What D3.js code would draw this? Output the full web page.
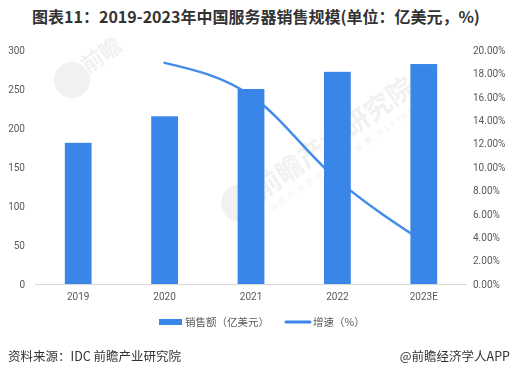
<!DOCTYPE html>
<html>
<head>
<meta charset="utf-8">
<script src="https://cdn.jsdelivr.net/npm/d3@7"></script>
<style>
  body { margin: 0; background: #fff; }
  svg { display: block; font-family: "Microsoft YaHei", "Noto Sans CJK SC", sans-serif; }
</style>
</head>
<body>
<div id="chart"></div>
<script>
// data
const years = ["2019", "2020", "2021", "2022", "2023E"];
const sales = [181, 215, 250, 272, 282];           // 亿美元
const growthYears = ["2020", "2021", "2022", "2023E"];
const growth = [18.9, 16.1, 8.9, 3.6];              // %
const leftTicks = [0, 50, 100, 150, 200, 250, 300];
const rightTicks = [0, 2, 4, 6, 8, 10, 12, 14, 16, 18, 20];

const width = 511, height = 377;
const plotLeft = 35, plotRight = 467, plotTop = 50, plotBottom = 284;
const blue = "#3a86e8";

const svg = d3.select("#chart").append("svg")
  .attr("width", width)
  .attr("height", height);

// title
svg.append("text")
  .attr("x", 256).attr("y", 23)
  .attr("text-anchor", "middle")
  .style("font-size", "16px")
  .style("font-weight", "bold")
  .attr("fill", "#333")
  .text("图表11：2019-2023年中国服务器销售规模(单位：亿美元，%)");

// faint watermark
const wm = svg.append("g").attr("opacity", 0.08).attr("fill", "#555");
wm.append("circle").attr("cx", 72).attr("cy", 80).attr("r", 18);
wm.append("text").attr("transform", "translate(88,74) rotate(-35)")
  .style("font-size", "22px").style("font-weight", "bold").text("前瞻");
wm.append("circle").attr("cx", 240).attr("cy", 203).attr("r", 19);
wm.append("text").attr("transform", "translate(262,200) rotate(-35)")
  .style("font-size", "27px").style("font-weight", "bold").text("前瞻产业研究院");
wm.append("text").attr("transform", "translate(272,212) rotate(-35)")
  .style("font-size", "8px").attr("letter-spacing", "3px").text("中国产业咨询领导者(股票:839599)");

const x = d3.scaleBand().domain(years).range([plotLeft, plotRight]).paddingInner(0.69).paddingOuter(0.345);
const y = d3.scaleLinear().domain([0, 300]).range([plotBottom, plotTop]);
const y2 = d3.scaleLinear().domain([0, 20]).range([plotBottom, plotTop]);

// bars
svg.selectAll("rect.bar")
  .data(sales)
  .enter()
  .append("rect")
  .attr("class", "bar")
  .attr("x", (d, i) => x(years[i]))
  .attr("y", d => y(d))
  .attr("width", x.bandwidth())
  .attr("height", d => plotBottom - y(d))
  .attr("fill", blue);

// baseline
svg.append("line")
  .attr("x1", plotLeft).attr("x2", plotRight)
  .attr("y1", plotBottom + 0.5).attr("y2", plotBottom + 0.5)
  .attr("stroke", "#d9d9d9");

// left axis
const axL = svg.append("g")
  .attr("transform", `translate(${plotLeft - 10},0)`)
  .call(d3.axisLeft(y).tickValues(leftTicks).tickSize(0).tickPadding(0));
axL.select(".domain").remove();
axL.selectAll("text").style("font-size", "10px").attr("fill", "#595959")
  .style("font-family", "Roboto, sans-serif");

// right axis
const axR = svg.append("g")
  .attr("transform", `translate(${plotRight + 6},0)`)
  .call(d3.axisRight(y2).tickValues(rightTicks).tickSize(0).tickPadding(0)
    .tickFormat(d => d.toFixed(2) + "%"));
axR.select(".domain").remove();
axR.selectAll("text").style("font-size", "10px").attr("fill", "#595959")
  .style("font-family", "Roboto, sans-serif");

// bottom axis
const axB = svg.append("g")
  .attr("transform", `translate(0,${plotBottom})`)
  .call(d3.axisBottom(x).tickSize(0).tickPadding(9));
axB.select(".domain").remove();
axB.selectAll("text").style("font-size", "10px").attr("fill", "#595959")
  .style("font-family", "Roboto, sans-serif");

// growth line
const line = d3.line()
  .x((d, i) => x(growthYears[i]) + x.bandwidth() / 2)
  .y(d => y2(d))
  .curve(d3.curveMonotoneX);

svg.append("path")
  .datum(growth)
  .attr("d", line)
  .attr("fill", "none")
  .attr("stroke", blue)
  .attr("stroke-width", 2.5)
  .attr("stroke-linecap", "round")
  .attr("opacity", 0.95);

// legend
svg.append("rect").attr("x", 159).attr("y", 319).attr("width", 23).attr("height", 6).attr("fill", blue);
svg.append("text").attr("x", 185).attr("y", 326)
  .style("font-size", "10.5px").attr("fill", "#595959").text("销售额（亿美元）");
svg.append("line").attr("x1", 286).attr("x2", 310).attr("y1", 322).attr("y2", 322)
  .attr("stroke", blue).attr("stroke-width", 3).attr("stroke-linecap", "round");
svg.append("text").attr("x", 313).attr("y", 326)
  .style("font-size", "10.5px").attr("fill", "#595959").text("增速（%）");

// footer
svg.append("text").attr("x", 8).attr("y", 361)
  .style("font-size", "12.5px").attr("fill", "#333").text("资料来源：IDC 前瞻产业研究院");
svg.append("text").attr("x", 510).attr("y", 361).attr("text-anchor", "end")
  .style("font-size", "12.5px").attr("fill", "#333").text("@前瞻经济学人APP");
</script>
</body>
</html>
